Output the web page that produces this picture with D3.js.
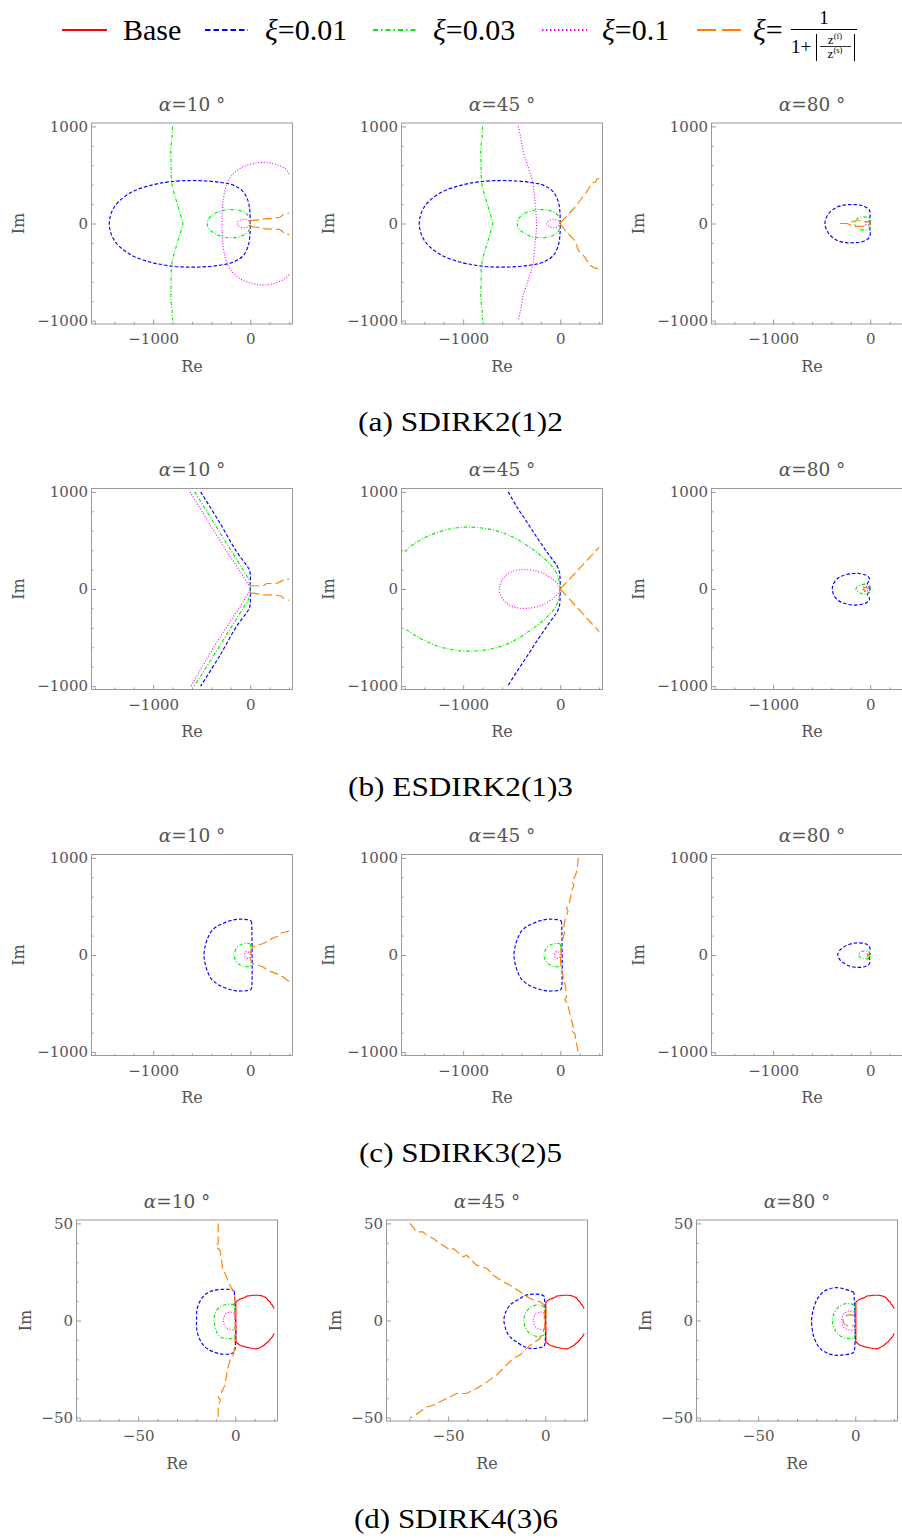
<!DOCTYPE html>
<html><head><meta charset="utf-8">
<script src="https://cdn.jsdelivr.net/npm/d3@7"></script>
<style>body{margin:0;background:#fff} svg{display:block;font-family:"DejaVu Serif",serif}</style>
</head><body>
<svg id="fig" width="902" height="1539"></svg>
<script>
// ---------- labels ----------
const angleLabels = ["10", "45", "80"];
const methodCaptions = ["(a) SDIRK2(1)2", "(b) ESDIRK2(1)3", "(c) SDIRK3(2)5", "(d) SDIRK4(3)6"];
const captionWidths = [205, 225, 203, 204];
const seriesKeys = ["base", "xi001", "xi003", "xi01", "adaptive"];
const legendTexts = ["Base", "=0.01", "=0.03", "=0.1", "="];

// ---------- axis ranges and ticks ----------
const bigXDomain = [-1640, 440], bigYDomain = [-1040, 1040];
const bigXMajor = [-1000, 0], bigYMajor = [-1000, 0, 1000];
const bigXMinor = [-1600, -1400, -1200, -800, -600, -400, -200, 200, 400];
const bigYMinor = [-800, -600, -400, -200, 200, 400, 600, 800];
const smallXDomain = [-82, 22], smallYDomain = [-52, 52];
const smallXMajor = [-50, 0], smallYMajor = [-50, 0, 50];
const smallXMinor = [-80, -70, -60, -40, -30, -20, -10, 10, 20];
const smallYMinor = [-40, -30, -20, -10, 10, 20, 30, 40];

// ---------- (a) SDIRK2(1)2 ----------
const a_xi001 = [[0,0],[-3,110],[-20,223],[-72,326],[-175,395],[-300,422],[-450,438],[-640,442],[-830,430],[-960,408],[-1067,382],[-1180,342],[-1256,302],[-1340,240],[-1395,178],[-1434,100],[-1452,0],[-1434,-102],[-1395,-181],[-1340,-244],[-1256,-306],[-1180,-347],[-1067,-387],[-960,-414],[-830,-437],[-640,-449],[-450,-444],[-300,-427],[-175,-398],[-72,-330],[-20,-226],[-3,-112],[0,0]];
const a_xi003_far = [[-800,1000],[-805,900],[-818,760],[-815,600],[-810,430],[-790,330],[-758,223],[-725,110],[-697,0],[-725,-110],[-758,-223],[-790,-330],[-810,-430],[-815,-600],[-818,-760],[-805,-900],[-800,-1000]];
const a_xi003_near = [[0,0],[-10,60],[-40,100],[-100,132],[-209,143],[-300,130],[-380,95],[-428,50],[-443,0],[-428,-50],[-380,-95],[-300,-132],[-209,-147],[-100,-134],[-40,-102],[-10,-62],[0,0]];
const a10_xi01_arc = [[400,512],[357,567],[250,612],[134,630],[20,615],[-106,567],[-200,480],[-244,395],[-271,292],[-285,189],[-290,90],[-290,0],[-290,-90],[-285,-189],[-271,-292],[-244,-395],[-200,-480],[-106,-567],[20,-617],[134,-634],[250,-615],[357,-567],[400,-524]];
const a10_xi01_loop = [[0,0],[-20,30],[-60,45],[-100,38],[-128,18],[-134,0],[-128,-18],[-100,-38],[-60,-45],[-20,-30],[0,0]];
const a10_adapt_up = [[0,30],[40,35],[80,35],[90,45],[140,45],[170,50],[210,50],[260,58],[305,64],[322,76],[340,92],[365,98],[390,105],[400,108]];
const a10_adapt_dn = [[0,-30],[40,-36],[80,-40],[100,-52],[170,-56],[220,-58],[300,-60],[320,-72],[340,-92],[370,-104],[390,-112],[400,-114]];
const a45_xi01_line = [[-432,1000],[-410,900],[-381,740],[-330,580],[-295,470],[-278,395],[-261,223],[-250,110],[-244,0],[-250,-110],[-261,-223],[-278,-395],[-295,-470],[-330,-580],[-381,-740],[-410,-900],[-432,-1000]];
const a45_xi01_loop = [[0,0],[-25,30],[-70,44],[-112,32],[-141,0],[-112,-32],[-70,-44],[-25,-30],[0,0]];
const a45_adapt_up = [[0,5],[65,74],[168,188],[271,326],[305,378],[320,395],[333,423],[367,430],[374,457],[400,464]];
const a45_adapt_dn = [[0,-5],[65,-88],[134,-157],[168,-209],[178,-261],[202,-295],[254,-347],[271,-381],[299,-398],[312,-433],[357,-460],[400,-467]];
const a80_xi001 = [[0,0],[-4,55],[0,100],[-10,140],[-60,176],[-150,194],[-250,192],[-350,165],[-430,100],[-467,0],[-430,-100],[-350,-170],[-250,-197],[-150,-197],[-60,-180],[-10,-145],[0,-105],[-4,-58],[0,0]];
const a80_xi003 = [[0,0],[0,40],[-30,62],[-90,66],[-140,45],[-160,0],[-140,-45],[-90,-66],[-30,-62],[0,-40],[0,0]];
const a80_xi01 = [[0,0],[-8,18],[-25,24],[-42,18],[-50,0],[-42,-18],[-25,-24],[-8,-18],[0,0]];
const a80_adapt = [[-310,0],[-240,0],[-215,-10],[-200,15],[-150,28],[-90,28],[-40,20],[-10,10],[0,0],[-10,-12],[-40,-22],[-90,-30],[-150,-30],[-200,-18],[-240,0]];

// ---------- (b) ESDIRK2(1)3 ----------
const b10_xi001 = [[-511,1000],[-322,695],[-141,385],[-40,246],[-10,200],[0,150],[0,0],[0,-150],[-10,-200],[-40,-246],[-141,-385],[-322,-700],[-511,-1000]];
const b10_xi003 = [[-572,1000],[-380,690],[-200,400],[-70,190],[-15,100],[0,40],[0,0],[0,-40],[-15,-100],[-70,-190],[-200,-400],[-380,-690],[-577,-1000]];
const b10_xi01 = [[-621,1000],[-430,690],[-250,400],[-110,190],[-30,60],[0,0],[-30,-60],[-110,-190],[-250,-400],[-430,-690],[-610,-1000]];
const b10_adapt_up = [[0,33],[60,33],[134,33],[168,57],[271,57],[322,81],[347,101],[400,101]];
const b10_adapt_dn = [[0,-40],[60,-47],[134,-60],[200,-60],[271,-64],[322,-75],[340,-92],[374,-112],[400,-116]];
const b45_xi001 = [[-535,1000],[-450,850],[-347,695],[-240,530],[-141,385],[-70,290],[-38,246],[-10,180],[-3,120],[0,0],[-3,-120],[-10,-180],[-38,-246],[-70,-290],[-141,-390],[-240,-535],[-347,-700],[-450,-855],[-540,-1000]];
const b45_xi003 = [[-1600,385],[-1500,470],[-1300,570],[-1100,625],[-930,637],[-700,610],[-500,540],[-300,420],[-150,300],[-60,200],[-15,100],[0,0],[-15,-100],[-60,-200],[-150,-300],[-300,-420],[-500,-545],[-700,-615],[-930,-640],[-1100,-628],[-1300,-575],[-1500,-475],[-1600,-410]];
const b45_xi01 = [[0,0],[-20,40],[-90,110],[-200,170],[-330,198],[-480,185],[-580,120],[-628,0],[-580,-120],[-480,-185],[-330,-198],[-200,-170],[-90,-110],[-20,-40],[0,0]];
const b45_adapt_up = [[0,0],[200,214],[400,428]];
const b45_adapt_dn = [[0,0],[200,-219],[400,-440]];
const b80_xi001 = [[0,0],[-15,30],[-30,55],[-12,85],[-8,110],[-40,140],[-100,157],[-175,160],[-260,145],[-340,105],[-380,50],[-391,0],[-380,-50],[-340,-110],[-260,-150],[-175,-165],[-100,-160],[-40,-142],[-8,-112],[-12,-85],[-30,-55],[-15,-30],[0,0]];
const b80_xi003 = [[0,0],[-5,30],[-40,48],[-90,45],[-130,25],[-148,0],[-130,-25],[-90,-47],[-40,-50],[-5,-32],[0,0]];
const b80_xi01 = [[-20,0],[-28,20],[-48,27],[-68,20],[-76,0],[-68,-20],[-48,-27],[-28,-20],[-20,0]];
const b80_adapt = [[-28,0],[-34,14],[-48,20],[-62,14],[-68,0],[-62,-14],[-48,-20],[-34,-14],[-28,0]];

// ---------- (c) SDIRK3(2)5 ----------
const c_xi001 = [[15,330],[8,350],[-20,362],[-80,368],[-141,367],[-209,352],[-280,325],[-347,292],[-400,245],[-432,188],[-462,100],[-477,0],[-462,-100],[-432,-190],[-400,-248],[-347,-295],[-280,-330],[-209,-355],[-141,-370],[-80,-370],[-20,-365],[8,-352],[15,-330],[15,330]];
const c_xi003 = [[3,110],[-20,118],[-60,118],[-110,100],[-145,65],[-168,0],[-145,-65],[-110,-100],[-60,-118],[-20,-120],[3,-112],[3,110]];
const c_xi01 = [[0,0],[-10,25],[-30,35],[-50,28],[-60,0],[-50,-28],[-30,-35],[-10,-25],[0,0]];
const c10_adapt_up = [[0,20],[3,33],[24,84],[82,102],[134,119],[168,136],[200,140],[220,171],[271,188],[305,205],[323,229],[374,240],[400,247]];
const c10_adapt_dn = [[0,-20],[3,-47],[24,-88],[82,-105],[134,-123],[168,-150],[220,-174],[271,-192],[305,-209],[340,-226],[374,-254],[400,-270]];
const c45_adapt = [[185,1000],[175,878],[151,809],[117,757],[141,723],[117,654],[93,533],[65,481],[80,450],[48,360],[31,257],[45,230],[14,119],[3,15],[3,-60],[14,-157],[31,-226],[55,-330],[65,-433],[45,-460],[75,-500],[100,-606],[134,-744],[115,-780],[150,-810],[161,-882],[185,-1000]];
const c80_xi001 = [[0,0],[-10,30],[-3,60],[-10,90],[-50,115],[-120,125],[-200,115],[-270,85],[-320,40],[-335,0],[-320,-40],[-270,-85],[-200,-118],[-120,-128],[-50,-118],[-10,-92],[-3,-60],[-10,-30],[0,0]];
const c80_xi003 = [[0,0],[-5,25],[-40,40],[-90,35],[-120,0],[-90,-35],[-40,-40],[-5,-25],[0,0]];
const c80_xi01 = [[-5,0],[-10,11],[-20,15],[-30,11],[-35,0],[-30,-11],[-20,-15],[-10,-11],[-5,0]];
const c80_adapt = [[-12,0],[-15,6],[-20,8],[-25,6],[-28,0],[-25,-6],[-20,-8],[-15,-6],[-12,0]];

// ---------- (d) SDIRK4(3)6 ----------
const d_base = [[20,6.2],[19,8],[18.5,8.3],[18,9.5],[17,10.3],[16.5,11],[16,11.6],[15,12.2],[14,12.6],[13,12.8],[12,13],[9,13],[8,12.8],[6,12.6],[5,12],[4,11.5],[3,11.2],[2,10.8],[1,10],[0.3,9.5],[0.3,0],[0.3,-11],[1,-11.6],[2,-12.5],[3,-13],[4,-13.2],[5,-13.6],[7,-14],[9,-14.4],[11,-14.6],[12,-14.3],[13,-13.8],[14,-13.2],[15,-12.6],[16,-11.6],[17,-11],[18,-9.6],[19,-8.6],[20,-6.7]];
const d10_xi001 = [[-0.5,14.8],[-1,15.4],[-2.7,16],[-7,16],[-11.3,15.4],[-14.8,13.9],[-17.3,11.3],[-19.6,6.2],[-19.9,0],[-19.9,-4.1],[-18.5,-9.3],[-15.6,-13.6],[-11.3,-16.1],[-7,-17.3],[-1.9,-17],[-0.5,-16.1],[-0.5,14.8]];
const d10_xi003 = [[-0.5,8.2],[-3.6,8.4],[-7.9,7],[-10,4.5],[-11,0],[-10,-4.5],[-8.8,-7.6],[-5.5,-9.2],[-2,-9.3],[-0.5,-8.9],[-0.5,8.2]];
const d10_xi01 = [[-0.5,4],[-3,4.3],[-5,3.3],[-6.2,0],[-5,-3.4],[-3,-4.6],[-0.5,-4.3],[-0.5,4]];
const d10_adapt = [[-8.8,50],[-8.8,39.6],[-10,37.9],[-7.9,36.2],[-7.4,33.6],[-6.5,26.8],[-4.8,23.3],[-3.6,19.9],[-1.9,16.5],[-0.5,14.8],[-0.2,11.3],[0,1],[-0.2,-12.7],[-1,-17.8],[-2.7,-20.4],[-3.6,-23.9],[-4.5,-28.1],[-5.3,-33.3],[-7.4,-37.6],[-8.8,-39.3],[-7.6,-41],[-8.8,-43.6],[-8.8,-50]];
const d45_xi001 = [[-0.5,12.5],[-1.9,13.2],[-6.2,13.6],[-10,13],[-13,11.3],[-16,9.5],[-18.2,7.9],[-20.5,4],[-21.3,0],[-20.5,-4],[-19.9,-5.8],[-17.5,-9],[-14.8,-11],[-10,-13.8],[-6.2,-14.4],[-1.9,-13.8],[-0.5,-13],[-0.5,12.5]];
const d45_xi003 = [[-0.5,7],[-2.5,7.8],[-5.3,7.8],[-8.5,6],[-10.5,3],[-11,0],[-10.5,-3],[-8.5,-6.2],[-5.3,-8],[-2.5,-8],[-0.5,-7.2],[-0.5,7]];
const d45_xi01 = [[-0.5,4],[-3,4.3],[-5,3.2],[-6.2,0],[-5,-3.3],[-3,-4.5],[-0.5,-4.2],[-0.5,4]];
const d45_adapt = [[-69.7,50],[-66.2,45.6],[-63,45.6],[-61,43.9],[-57.7,42.2],[-54,39.6],[-49,36.2],[-47.3,37],[-42.2,32.8],[-40.5,33.6],[-35.4,28.5],[-30,26.8],[-26.8,23.3],[-21.6,19.9],[-18.2,18.2],[-13,14.8],[-7.9,11.3],[-2.7,9.6],[-0.5,7.9],[-0.5,0],[-0.3,-4.1],[-2.7,-9.3],[-7.9,-12.7],[-13,-17.8],[-16.5,-19.5],[-20,-23],[-25,-28],[-30,-31.6],[-35.4,-35],[-40.5,-37.6],[-45.6,-37.6],[-50.8,-40.2],[-57.7,-43.6],[-61,-44.5],[-64.5,-47],[-68,-49.6],[-69.7,-50]];
const d80_xi001 = [[-0.7,14.4],[-1.9,15.1],[-5,16],[-8,16.8],[-11.3,16.8],[-14,16],[-16.5,14.8],[-18.5,12.5],[-19.9,10.5],[-21.5,6],[-22.5,0],[-21.6,-7.6],[-20,-11.5],[-18.2,-14.4],[-15,-16.5],[-11.3,-17.8],[-7,-17.8],[-1.9,-17],[-0.7,-16.1],[-0.7,14.4]];
const d80_xi003 = [[-0.5,8],[-2.5,8.6],[-5.3,8.6],[-8.5,7],[-11,3.5],[-11.8,0],[-11,-3.5],[-9,-7],[-5.3,-9],[-2.5,-9.2],[-0.5,-8.5],[-0.5,8]];
const d80_xi01 = [[-0.5,4.5],[-3.6,4.8],[-6,3.2],[-7,0],[-6,-3.3],[-3.6,-4.8],[-0.5,-4.6],[-0.5,4.5]];
const d80_adapt = [[-0.5,2.5],[-2.5,3],[-4.5,2.5],[-6,1],[-6.2,0],[-6,-1.2],[-4.5,-2.6],[-2.5,-3],[-0.5,-2.5]];

// ---------- which curves go into which panel ----------
const panelCurves = [
  [
    [["xi001", a_xi001], ["xi003", a_xi003_far], ["xi003", a_xi003_near], ["xi01", a10_xi01_arc], ["xi01", a10_xi01_loop], ["adaptive", a10_adapt_up], ["adaptive", a10_adapt_dn]],
    [["xi001", a_xi001], ["xi003", a_xi003_far], ["xi003", a_xi003_near], ["xi01", a45_xi01_line], ["xi01", a45_xi01_loop], ["adaptive", a45_adapt_up], ["adaptive", a45_adapt_dn]],
    [["xi001", a80_xi001], ["xi003", a80_xi003], ["adaptive", a80_adapt], ["xi01", a80_xi01]]
  ],
  [
    [["xi001", b10_xi001], ["xi003", b10_xi003], ["xi01", b10_xi01], ["adaptive", b10_adapt_up], ["adaptive", b10_adapt_dn]],
    [["xi001", b45_xi001], ["xi003", b45_xi003], ["xi01", b45_xi01], ["adaptive", b45_adapt_up], ["adaptive", b45_adapt_dn]],
    [["xi001", b80_xi001], ["xi003", b80_xi003], ["xi01", b80_xi01], ["adaptive", b80_adapt]]
  ],
  [
    [["xi001", c_xi001], ["xi003", c_xi003], ["xi01", c_xi01], ["adaptive", c10_adapt_up], ["adaptive", c10_adapt_dn]],
    [["xi001", c_xi001], ["xi003", c_xi003], ["xi01", c_xi01], ["adaptive", c45_adapt]],
    [["xi001", c80_xi001], ["xi003", c80_xi003], ["xi01", c80_xi01], ["adaptive", c80_adapt]]
  ],
  [
    [["base", d_base], ["xi001", d10_xi001], ["xi003", d10_xi003], ["xi01", d10_xi01], ["adaptive", d10_adapt]],
    [["base", d_base], ["xi001", d45_xi001], ["xi003", d45_xi003], ["xi01", d45_xi01], ["adaptive", d45_adapt]],
    [["base", d_base], ["xi001", d80_xi001], ["xi003", d80_xi003], ["xi01", d80_xi01], ["adaptive", d80_adapt]]
  ]
];

// ---------- styling ----------
const seriesStyle = {
  base:     {color: "#ff0000", dash: null,        legendDash: null,          smooth: false},
  xi001:    {color: "#0000ff", dash: "3.5,2",     legendDash: "5.5,3",       smooth: true},
  xi003:    {color: "#00ee00", dash: "3.5,1.8,1,1.8", legendDash: "5,3,1.5,3", smooth: true},
  xi01:     {color: "#ff00ff", dash: "1,1.8",     legendDash: "1.5,2.5",     smooth: true},
  adaptive: {color: "#ff8000", dash: "9,4",       legendDash: "19,6",        smooth: false}
};

const W = 202, H = 202;
const rowTops = [122.5, 488, 854, 1219.5];
const colLefts = [[91, 401, 711], [91, 401, 711], [91, 401, 711], [76, 386, 696]];
const frameColor = "#9a9a9a", labelColor = "#555555";

const svg = d3.select("#fig");
const defs = svg.append("defs");

panelCurves.forEach((row, r) => {
  const small = r === 3;
  const xDom = small ? smallXDomain : bigXDomain;
  const yDom = small ? smallYDomain : bigYDomain;
  row.forEach((curves, c) => {
    const left = colLefts[r][c], top = rowTops[r];
    const x = d3.scaleLinear().domain(xDom).range([left, left + W]);
    const y = d3.scaleLinear().domain(yDom).range([top + H, top]);
    const g = svg.append("g");

    const clipId = `clip-${r}-${c}`;
    defs.append("clipPath").attr("id", clipId)
      .append("rect").attr("x", left).attr("y", top).attr("width", W).attr("height", H);

    const plot = g.append("g").attr("clip-path", `url(#${clipId})`);
    curves.forEach(([key, pts]) => {
      const st = seriesStyle[key];
      const line = d3.line().x(d => x(d[0])).y(d => y(d[1]))
        .curve(st.smooth ? d3.curveCatmullRom.alpha(0.5) : d3.curveLinear);
      plot.append("path").attr("d", line(pts))
        .attr("fill", "none").attr("stroke", st.color)
        .attr("stroke-width", 1.15)
        .attr("stroke-dasharray", st.dash);
    });

    // frame
    g.append("rect").attr("x", left + 0.5).attr("y", top + 0.5)
      .attr("width", W - 1).attr("height", H - 1)
      .attr("fill", "none").attr("stroke", frameColor).attr("stroke-width", 1);

    // ticks pointing inward, labels on major ticks only
    const xMajor = small ? smallXMajor : bigXMajor;
    const yMajor = small ? smallYMajor : bigYMajor;
    const xMinor = small ? smallXMinor : bigXMinor;
    const yMinor = small ? smallYMinor : bigYMinor;
    const fmt = d3.format("d");

    const styleAxis = sel => {
      sel.select(".domain").remove();
      sel.selectAll("line").attr("stroke", frameColor);
      sel.selectAll("text").attr("fill", labelColor)
        .style("font-family", "DejaVu Serif").style("font-size", "15px");
    };
    g.append("g").attr("transform", `translate(0,${top + H})`)
      .call(d3.axisBottom(x).tickValues(xMajor).tickFormat(fmt).tickSizeInner(-5).tickSizeOuter(0).tickPadding(9))
      .call(styleAxis);
    g.append("g").attr("transform", `translate(0,${top + H})`)
      .call(d3.axisBottom(x).tickValues(xMinor).tickFormat("").tickSizeInner(-2.5).tickSizeOuter(0))
      .call(styleAxis);
    g.append("g").attr("transform", `translate(${left},0)`)
      .call(d3.axisLeft(y).tickValues(yMajor).tickFormat(fmt).tickSizeInner(-5).tickSizeOuter(0).tickPadding(3))
      .call(styleAxis);
    g.append("g").attr("transform", `translate(${left},0)`)
      .call(d3.axisLeft(y).tickValues(yMinor).tickFormat("").tickSizeInner(-2.5).tickSizeOuter(0))
      .call(styleAxis);

    // axis names
    g.append("text").attr("x", left + W / 2).attr("y", top + H + 47)
      .attr("text-anchor", "middle").attr("fill", labelColor)
      .style("font-size", "16px").text("Re");
    g.append("text")
      .attr("transform", `translate(${left - (small ? 45 : 67)},${top + H / 2}) rotate(-90)`)
      .attr("text-anchor", "middle").attr("fill", labelColor)
      .style("font-size", "16px").text("Im");

    // panel title
    const t = g.append("text").attr("x", left + W / 2).attr("y", top - 12)
      .attr("text-anchor", "middle").attr("fill", labelColor).style("font-size", "18.5px");
    t.append("tspan").style("font-style", "italic").text("α");
    t.append("tspan").text(`=${angleLabels[c]} °`);
  });

  // sub-figure caption
  svg.append("text").attr("x", r === 3 ? 456 : 460.5).attr("y", rowTops[r] + 308)
    .attr("text-anchor", "middle").attr("fill", "#000")
    .attr("textLength", captionWidths[r]).attr("lengthAdjust", "spacingAndGlyphs")
    .style("font-family", "Liberation Serif").style("font-size", "27px")
    .text(methodCaptions[r]);
});

// ---------- legend ----------
const legendLineX = [[62, 107], [205, 248], [373, 418], [542, 587], [697, 741]];
const legendTextX = [123, 265, 433, 602, 753];
const leg = svg.append("g").style("font-family", "Liberation Serif").style("font-size", "30px");
seriesKeys.forEach((key, i) => {
  const st = seriesStyle[key];
  leg.append("line").attr("x1", legendLineX[i][0]).attr("x2", legendLineX[i][1])
    .attr("y1", 30).attr("y2", 30)
    .attr("stroke", st.color).attr("stroke-width", 1.8)
    .attr("stroke-dasharray", st.legendDash);
  const t = leg.append("text").attr("x", legendTextX[i]).attr("y", 40).attr("fill", "#000");
  if (i > 0) t.append("tspan").style("font-style", "italic").text("ξ");
  t.append("tspan").text(legendTexts[i]);
});
// fraction 1 / (1 + |z(f)/z(s)|)
const frac = leg.append("g").attr("fill", "#000");
frac.append("text").attr("x", 824).attr("y", 24).attr("text-anchor", "middle")
  .style("font-size", "19px").text("1");
frac.append("line").attr("x1", 791).attr("x2", 857).attr("y1", 29.5).attr("y2", 29.5)
  .attr("stroke", "#000").attr("stroke-width", 1);
frac.append("text").attr("x", 791).attr("y", 53).style("font-size", "19px").text("1+");
frac.append("line").attr("x1", 816.5).attr("x2", 816.5).attr("y1", 34).attr("y2", 61).attr("stroke", "#000").attr("stroke-width", 1);
frac.append("line").attr("x1", 854.5).attr("x2", 854.5).attr("y1", 34).attr("y2", 61).attr("stroke", "#000").attr("stroke-width", 1);
frac.append("line").attr("x1", 820).attr("x2", 851).attr("y1", 46.5).attr("y2", 46.5).attr("stroke", "#000").attr("stroke-width", 0.8);
const zf = frac.append("text").attr("x", 835).attr("y", 44).attr("text-anchor", "middle").style("font-size", "13px");
zf.append("tspan").text("z");
zf.append("tspan").attr("dy", -5).style("font-size", "8.5px").text("(f)");
const zs = frac.append("text").attr("x", 835).attr("y", 58).attr("text-anchor", "middle").style("font-size", "13px");
zs.append("tspan").text("z");
zs.append("tspan").attr("dy", -5).style("font-size", "8.5px").text("(s)");
</script>
</body></html>
